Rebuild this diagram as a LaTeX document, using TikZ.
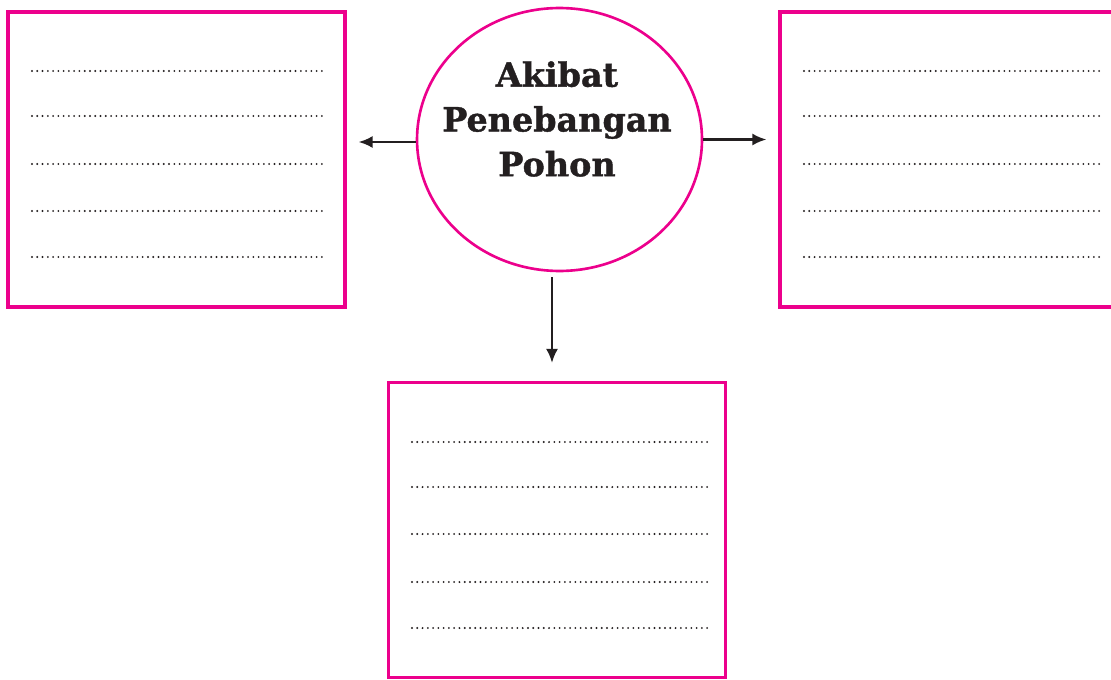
\documentclass[tikz,border=0pt]{standalone}
\usepackage{fontspec}
\newfontfamily\judulfont{DejaVu Serif}[BoldFeatures={FakeBold=1.2}]
\usetikzlibrary{arrows.meta,shapes.geometric,calc}
\definecolor{magenta}{RGB}{236,0,140}
\definecolor{tinta}{RGB}{35,31,32}
\tikzset{
  kotak/.style={draw=magenta, line width=1.8pt, minimum width=6.74cm, minimum height=5.9cm, inner sep=0pt},
  lingkar/.style={ellipse, draw=magenta, line width=1.5pt, minimum width=5.7cm, minimum height=5.26cm, inner sep=0pt},
  panah/.style={-{Latex[length=0.28cm,width=0.24cm]}, line width=1.4pt, tinta},
  titik/.style={tinta, line width=1.2pt, line cap=round, dash pattern=on 0pt off 3pt},
}
\begin{document}
\begin{tikzpicture}[x=0.02cm, y=-0.02cm]
	\useasboundingbox (0,0) rectangle (1111,679);
	\clip (0,0) rectangle (1111,679);
	% kotak jawaban
	\node[kotak] (kiri) at (176.5,159.5) {};
	\node[kotak] (kanan) at (948.5,159.5) {};
	\node[kotak] (bawah) at (557,530) {};
	% lingkaran judul
	\node[lingkar] (akibat) at (559.5,139.5) {};
	\node[align=center, text=tinta, font=\judulfont\bfseries\fontsize{19}{25.5}\selectfont] (judul) at (557,119)
		{Akibat\\Penebangan\\Pohon};
	% panah
	\draw[panah, shorten >=0.24cm] ([yshift=-0.05cm]akibat.west) -- ([yshift=-0.05cm]akibat.west -| kiri.east);
	\draw[panah, shorten >=0.24cm] (akibat.east) -- (akibat.east -| kanan.west);
	\draw[panah] ($(akibat.south)+(-7.5,5)$) -- ($(akibat.south |- bawah.north)+(-7.5,-18)$);
	% garis titik-titik
	\foreach \y in {71,116,164,211,257} {
		\draw[titik] (32,\y) -- (327,\y);
		\draw[titik] (804,\y) -- (1100,\y);
	}
	\foreach \y in {442,487,534,582,628}
		\draw[titik] (412,\y) -- (708,\y);
\end{tikzpicture}
\end{document}
